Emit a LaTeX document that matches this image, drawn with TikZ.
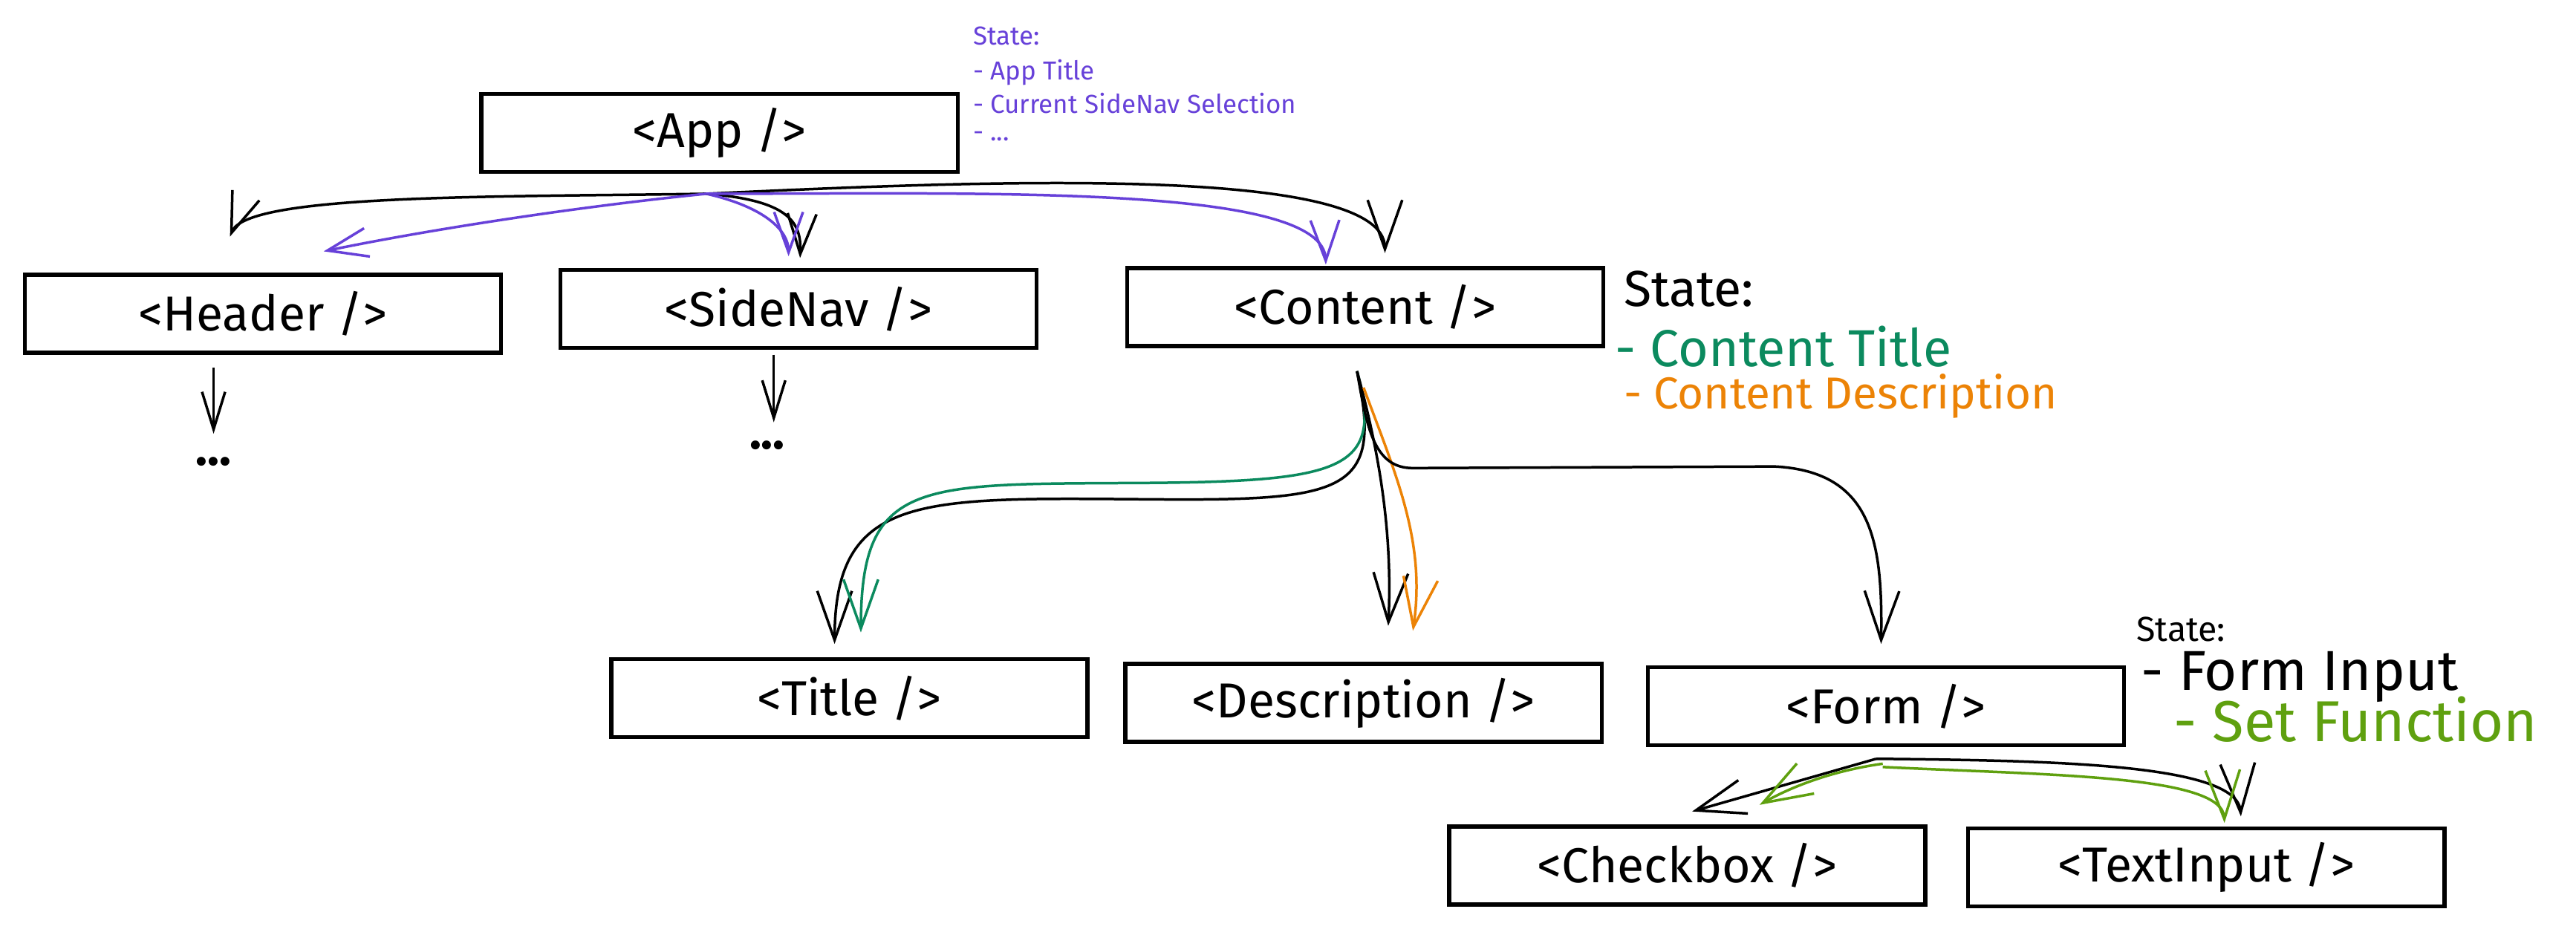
\documentclass[tikz,border=0pt]{standalone}
\usepackage{fontspec}
\setmainfont{Fira Sans}
\usetikzlibrary{arrows.meta,calc}
\definecolor{vio}{HTML}{6741D9}
\definecolor{teal}{HTML}{0B8A5E}
\definecolor{orng}{HTML}{EC8306}
\definecolor{lgrn}{HTML}{5FA00F}
\tikzset{
  comp/.style={draw, line width=1.4pt, minimum width=5.8cm, minimum height=0.95cm, inner sep=0pt, font=\fontsize{17}{19}\selectfont},
  conn/.style={line width=0.9pt, -{Straight Barb[length=17pt,width=12pt,line width=0.9pt]}},
  midconn/.style={line width=0.9pt, -{Straight Barb[length=14pt,width=10pt,line width=0.9pt]}},
  smallconn/.style={line width=0.9pt, -{Straight Barb[length=13pt,width=8pt,line width=0.9pt]}},
  note/.style={anchor=west, inner sep=0pt},
  smallnote/.style={note, font=\fontsize{9}{11}\selectfont, text=vio},
  bignote/.style={note, font=\fontsize{15.5}{18}\selectfont},
}
\begin{document}
\begin{tikzpicture}[x=0.02cm,y=-0.02cm]
\useasboundingbox (0,0) rectangle (1568,567);
% component boxes
\node[comp] (app) at (438,81) {<App />};
\node[comp] (header) at (160,191) {<Header />};
\node[comp] (sidenav) at (486,188) {<SideNav />};
\node[comp] (content) at (831,187) {<Content />};
\node[comp] (title) at (517,425) {<Title />};
\node[comp] (desc) at (830,428) {<Description />};
\node[comp] (form) at (1148,430) {<Form />};
\node[comp] (checkbox) at (1027,527) {<Checkbox />};
\node[comp] (textinput) at (1343,528) {<TextInput />};
% ellipses
\node[font=\fontsize{17}{19}\bfseries] (hdots) at (130,281) {...};
\node[font=\fontsize{17}{19}\bfseries] (sdots) at (467,271) {...};
% state notes
\node[smallnote] (s1) at (592,22) {State:};
\node[smallnote] (s2) at (592,44) {- App Title};
\node[smallnote] (s3) at (592,63) {- Current SideNav Selection};
\node[smallnote] (s4) at (592,83) {- ...};
\node[bignote, font=\fontsize{17.5}{20}\selectfont] (c1) at (988,176) {State:};
\node[bignote, font=\fontsize{18}{20}\selectfont, text=teal] (c2) at (983,211) {- Content Title};
\node[bignote, text=orng] (c3) at (988,241) {- Content Description};
\node[note, font=\fontsize{12}{14}\selectfont] (f1) at (1300,383) {State:};
\node[bignote, font=\fontsize{19.5}{22}\selectfont] (f2) at (1303,412) {- Form Input};
\node[bignote, font=\fontsize{20}{22}\selectfont, text=lgrn] (f3) at (1323,438) {- Set Function};
% connector sources
\coordinate (appout) at ($(app.south)+(-8,12)$);
\coordinate (cout) at ($(content.south)+(-5,14)$);
\coordinate (fout) at ($(form.south)+(-6,7)$);
% App -> children
\draw[midconn] (appout) .. controls (300,120) and (150,118) .. ($(header.north)+(-20,-22)$);
\draw[midconn, vio] (appout) .. controls (350,126) and (260,140) .. ($(header.north)+(37,-13)$);
\draw[midconn] (appout) .. controls (480,122) and (488,135) .. ($(sidenav.north)+(1,-6)$);
\draw[midconn, vio] (appout) .. controls (465,126) and (480,140) .. ($(sidenav.north)+(-6,-7)$);
\draw[conn] (appout) .. controls (600,110) and (843,100) .. ($(content.north)+(12,-8)$);
\draw[midconn, vio] (appout) .. controls (600,118) and (806,112) .. ($(content.north)+(-24,-1)$);
% Header / SideNav -> ...
\draw[smallconn] ($(header.south)+(-30,8)$) -- ($(hdots.north)+(0,-8)$);
\draw[smallconn] ($(sidenav.south)+(-15,3)$) -- ($(sdots.north)+(4,-5)$);
% Content -> children
\draw[conn] (cout) .. controls (842,300) and (820,305) .. (700,304) .. controls (560,303) and (508,300) .. ($(title.north)+(-9,-8)$);
\draw[conn, teal] (cout) .. controls (842,285) and (820,293) .. (700,294) .. controls (560,295) and (524,290) .. ($(title.north)+(7,-15)$);
\draw[conn] (cout) .. controls (838,270) and (848,320) .. ($(desc.north)+(15,-22)$);
\draw[conn, orng] ($(cout)+(4,10)$) .. controls (850,290) and (868,330) .. ($(desc.north)+(30,-19)$);
\draw[conn] (cout) .. controls (832,260) and (836,285) .. (860,285) -- (1080,284) .. controls (1140,287) and (1146,330) .. ($(form.north)+(-3,-13)$);
% Form -> children
\draw[conn] (fout) -- ($(checkbox.north)+(3,-8)$);
\draw[conn, lgrn] ($(fout)+(4,3)$) .. controls (1110,470) and (1085,482) .. ($(checkbox.north)+(44,-12)$);
\draw[conn] (fout) .. controls (1250,463) and (1362,465) .. ($(textinput.north)+(21,-6)$);
\draw[conn, lgrn] ($(fout)+(4,5)$) .. controls (1250,472) and (1353,472) .. ($(textinput.north)+(11,-2)$);
\end{tikzpicture}
\end{document}
